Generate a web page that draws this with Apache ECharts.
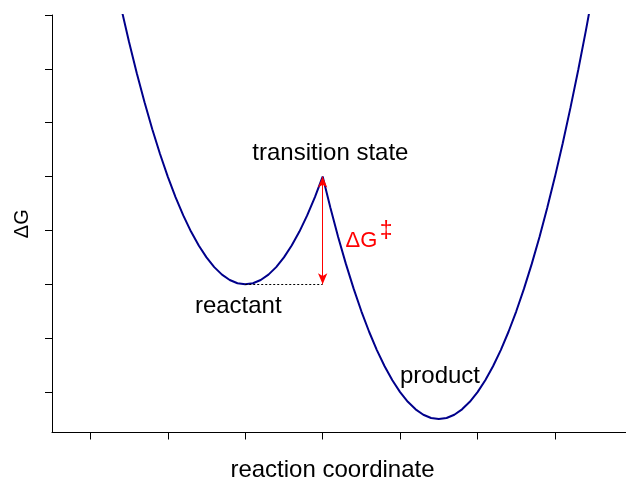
<!DOCTYPE html>
<html>
<head>
<meta charset="utf-8">
<script src="https://cdn.jsdelivr.net/npm/echarts@6/dist/echarts.min.js"></script>
<style>
html, body { margin: 0; padding: 0; background: #fff; }
#chart { width: 626px; height: 481px; }
</style>
</head>
<body>
<div id="chart"></div>
<script>
// energy profile (reactant well, barrier, product well)
var coordX = [1.4, 1.5, 1.6, 1.7, 1.8, 1.9, 2.0, 2.1, 2.2, 2.3, 2.4, 2.5, 2.6, 2.7, 2.8, 2.9,
  3.0, 3.1, 3.2, 3.3, 3.4, 3.5, 3.6, 3.7, 3.8, 3.9, 4.0,
  4.1, 4.2, 4.3, 4.4, 4.5, 4.6, 4.7, 4.8, 4.9, 5.0, 5.1, 5.2, 5.3, 5.4, 5.5,
  5.6, 5.7, 5.8, 5.9, 6.0, 6.1, 6.2, 6.3, 6.4, 6.5, 6.6, 6.7, 6.8, 6.9, 7.0,
  7.1, 7.2, 7.3, 7.4, 7.5];
var energyG = [8.12, 7.5, 6.92, 6.38, 5.88, 5.42, 5.0, 4.62, 4.28, 3.98, 3.72, 3.5, 3.32, 3.18, 3.08, 3.02,
  3.0, 3.02, 3.08, 3.18, 3.32, 3.5, 3.72, 3.98, 4.28, 4.62, 5.0,
  4.42, 3.88, 3.38, 2.92, 2.5, 2.12, 1.78, 1.48, 1.22, 1.0, 0.82, 0.68, 0.58, 0.52, 0.5,
  0.52, 0.58, 0.68, 0.82, 1.0, 1.22, 1.48, 1.78, 2.12, 2.5, 2.92, 3.38, 3.88, 4.42, 5.0,
  5.62, 6.28, 6.98, 7.72, 8.5];

var xTicks = [1, 2, 3, 4, 5, 6, 7];
var yTicks = [1, 2, 3, 4, 5, 6, 7, 8];

// reactant level and the barrier height
var baseLine = [[3, 3], [4, 3]];
var barrier = [[4, 3], [4, 5]];

var labelText = ['transition state', 'reactant', 'product', '\u0394G', '\u2021'];
var labelX = [4.1, 2.91, 5.515, 4.5, 4.82];
var labelY = [5.43, 2.59, 1.29, 3.8, 3.98];

var font = "'Liberation Sans', Arial, Helvetica, sans-serif";
var labelColor = ['#000', '#000', '#000', '#ff0000', '#ff0000'];
var labelSize = [24, 24, 24, 22, 23];

var chart = echarts.init(document.getElementById('chart'));

var option = {
  backgroundColor: '#fff',
  animation: false,
  grid: { left: 52, right: 0, top: 15, bottom: 48.5, outerBoundsMode: 'none', containLabel: false },
  xAxis: {
    type: 'value',
    min: 0.505,
    max: 7.917,
    name: 'reaction coordinate',
    nameLocation: 'middle',
    nameGap: 26,
    nameTextStyle: { fontFamily: font, fontSize: 24, color: '#000', padding: [0, 13, 0, 0] },
    axisLine: { show: true, lineStyle: { color: '#000', width: 1 } },
    axisTick: { show: true, length: 7, customValues: xTicks, lineStyle: { color: '#000' } },
    axisLabel: { show: false },
    splitLine: { show: false }
  },
  yAxis: {
    type: 'value',
    min: 0.25,
    max: 8,
    name: '\u0394G',
    nameLocation: 'middle',
    nameGap: 20,
    nameRotate: 90,
    nameTextStyle: { fontFamily: font, fontSize: 20, color: '#000' },
    axisLine: { show: true, lineStyle: { color: '#000', width: 1 } },
    axisTick: { show: true, length: 7, customValues: yTicks, lineStyle: { color: '#000' } },
    axisLabel: { show: false },
    splitLine: { show: false }
  },
  series: [
    {
      type: 'line',
      data: coordX.map(function (x, i) { return [x, energyG[i]]; }),
      showSymbol: false,
      clip: true,
      lineStyle: { color: '#00008B', width: 2 },
      silent: true
    },
    {
      type: 'line',
      data: [],
      silent: true,
      markLine: {
        silent: true,
        animation: false,
        label: { show: false },
        data: [
          [
            { coord: baseLine[0], symbol: 'none', lineStyle: { color: '#000', width: 1, type: [2, 2] } },
            { coord: baseLine[1], symbol: 'none' }
          ],
          [
            { coord: barrier[0], symbol: 'arrow', symbolSize: [7, 11], lineStyle: { color: '#ff0000', width: 1, type: 'solid' } },
            { coord: barrier[1], symbol: 'arrow', symbolSize: [7, 11] }
          ]
        ]
      }
    },
    {
      type: 'scatter',
      symbolSize: 0,
      silent: true,
      itemStyle: { opacity: 1 },
      data: labelText.map(function (t, i) {
        return {
          name: t,
          value: [labelX[i], labelY[i]],
          label: {
            show: true,
            position: 'inside',
            formatter: '{b}',
            fontFamily: font,
            fontSize: labelSize[i],
            color: labelColor[i],
            opacity: 1,
            textBorderWidth: 0
          }
        };
      })
    }
  ]
};

chart.setOption(option);
</script>
</body>
</html>
